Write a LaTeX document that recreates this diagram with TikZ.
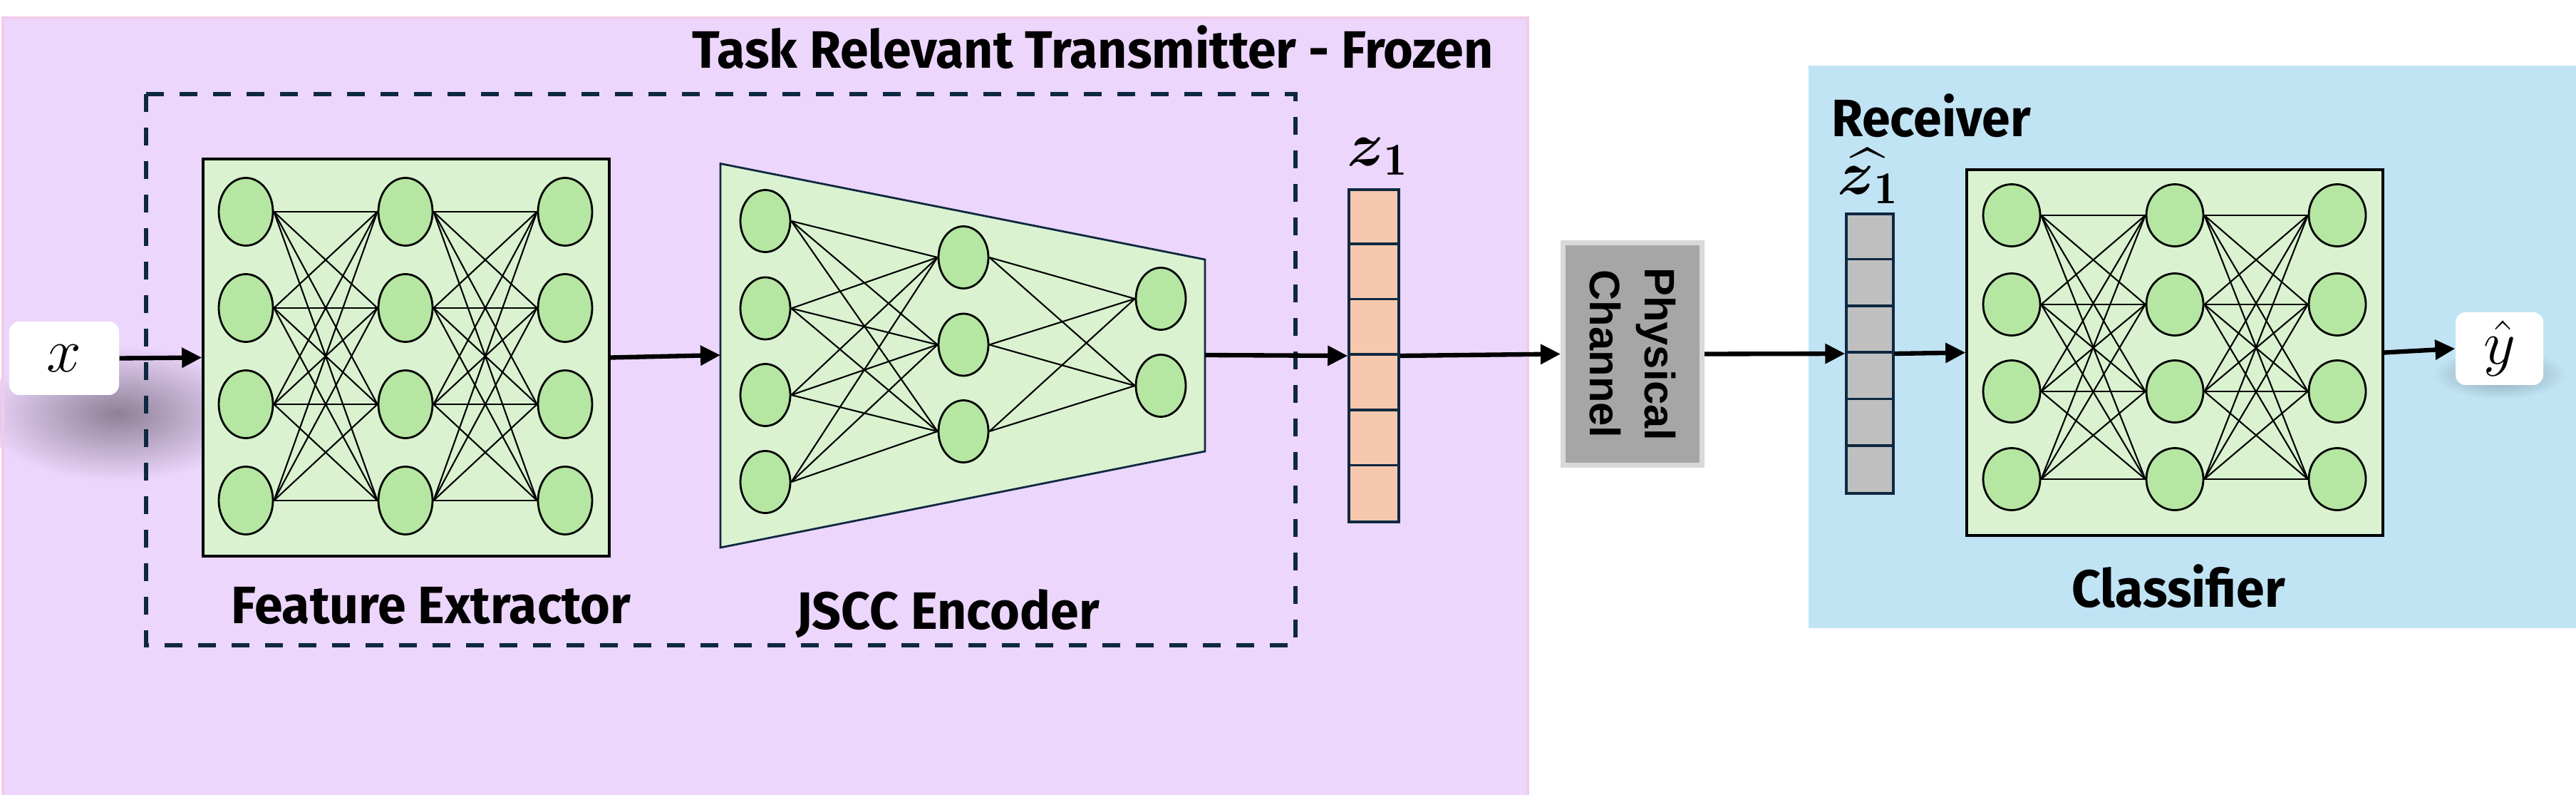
\documentclass[tikz,border=0pt]{standalone}
\usepackage{amsmath}
\usepackage{fontspec}
\newfontfamily\lblfont{Fira Sans}[FakeStretch=0.97]
\newfontfamily\chanfont{Liberation Sans}
\usetikzlibrary{arrows.meta,positioning,calc,shapes.geometric}
\definecolor{txpurple}{HTML}{ECD6FC}
\definecolor{txborder}{HTML}{F2CBEA}
\definecolor{rxblue}{HTML}{C1E4F5}
\definecolor{boxgreen}{HTML}{DAF2D0}
\definecolor{neurongreen}{HTML}{B5E6A2}
\definecolor{peach}{HTML}{F6C9AE}
\definecolor{vecgray}{HTML}{BFBFBF}
\definecolor{chgray}{HTML}{A6A6A6}
\definecolor{chborder}{HTML}{D9D9D9}
\definecolor{navy}{HTML}{0E2841}

\begin{document}
\begin{tikzpicture}[>={Triangle[length=2.8mm,width=2.7mm]},
  netbox/.style={draw=black, line width=1pt, fill=boxgreen, inner sep=0pt},
  neuron/.style={ellipse, draw=black, line width=0.8pt, fill=neurongreen, inner sep=0pt,
                 minimum width=7.6mm, minimum height=9.5mm},
  syn/.style={line width=0.6pt},
  flow/.style={->, line width=1.8pt},
  lbl/.style={font=\lblfont\bfseries\fontsize{21}{24}\selectfont, inner sep=1pt},
  vec/.style={draw=navy, line width=1pt, minimum width=7mm, inner sep=0pt},
  io/.style={fill=white, rounded corners=4pt, inner sep=0pt, font=\fontsize{28}{32}\selectfont},
  sym/.style={font=\fontsize{26}{30}\selectfont, inner sep=1pt}]
  \useasboundingbox (0,0) rectangle (36.15,-11.15);

  % transmitter and receiver panels
  \fill[txpurple] (0.04,-0.25) rectangle (21.44,-11.15);
  \shade[inner color=black!40!txpurple, outer color=txpurple] (1.65,-5.8) ellipse (1.9 and 0.95);
  \draw[txborder, line width=1pt] (0.04,-11.2) -- (0.04,-0.25) -- (21.44,-0.25) -- (21.44,-11.2);
  \fill[rxblue] (25.38,-0.92) rectangle (36.2,-8.81);
  \node[lbl, anchor=east] (ttl) at (21.0,-0.66) {Task Relevant Transmitter - Frozen};
  \node[lbl, anchor=west] (rxlbl) at (25.66,-1.62) {Receiver};
  \draw[navy, line width=1.7pt, dash pattern=on 2.5mm off 2.2mm] (2.05,-1.32) rectangle (18.18,-9.05);

  % feature extractor
  \node[netbox, minimum width=5.70cm, minimum height=5.57cm] (feat) at (5.70,-5.015) {};
  \foreach \c/\x in {a/3.45,b/5.69,c/7.93}
    \foreach \r/\y in {1/-2.97,2/-4.32,3/-5.67,4/-7.02}
      \node[neuron] (fe\c\r) at (\x,\y) {};
  \foreach \i in {1,...,4}
    \foreach \j in {1,...,4} {
      \draw[syn] (fea\i.east) -- (feb\j.west);
      \draw[syn] (feb\i.east) -- (fec\j.west);
    }
  \node[lbl] (featlbl) at (6.05,-8.50) {Feature Extractor};

  % JSCC encoder
  \draw[navy, line width=0.8pt, fill=boxgreen] (10.11,-2.295) -- (16.91,-3.64) -- (16.91,-6.33) -- (10.11,-7.68) -- cycle;
  \coordinate (jsccin) at (10.11,-4.98);
  \coordinate (jsccout) at (16.91,-4.98);
  \foreach \r/\y in {1/-3.10,2/-4.325,3/-5.54,4/-6.76}
    \node[neuron, minimum width=7mm, minimum height=8.7mm] (ja\r) at (10.74,\y) {};
  \foreach \r/\y in {1/-3.61,2/-4.835,3/-6.05}
    \node[neuron, minimum width=7mm, minimum height=8.7mm] (jb\r) at (13.52,\y) {};
  \foreach \r/\y in {1/-4.19,2/-5.41}
    \node[neuron, minimum width=7mm, minimum height=8.7mm] (jc\r) at (16.29,\y) {};
  \foreach \i in {1,...,4}
    \foreach \j in {1,...,3}
      \draw[syn] (ja\i.east) -- (jb\j.west);
  \foreach \i in {1,...,3}
    \foreach \j in {1,2}
      \draw[syn] (jb\i.east) -- (jc\j.west);
  \node[lbl] (jscclbl) at (13.30,-8.61) {JSCC Encoder};

  % latent z1
  \node[vec, fill=peach, minimum height=4.66cm] (z1) at (19.28,-4.99) {};
  \foreach \k in {1,...,5}
    \draw[navy, line width=1pt] ($(z1.north west)+(0,-0.7767*\k)$) -- ($(z1.north east)+(0,-0.7767*\k)$);
  \node[sym] (z1lbl) at (19.33,-2.2) {$\boldsymbol{z}_{\mathbf{1}}$};

  % physical channel
  \node[draw=chborder, line width=2pt, fill=chgray, minimum width=1.95cm, minimum height=3.12cm,
        inner sep=0pt] (chan) at (22.91,-4.965) {};
  \node[rotate=-90, align=center, font=\chanfont\bfseries\fontsize{17}{22}\selectfont] (chantxt)
        at (chan.center) {Physical\\Channel};

  % received z1
  \node[vec, fill=vecgray, minimum width=6.6mm, minimum height=3.92cm] (zh) at (26.24,-4.96) {};
  \foreach \k in {1,...,5}
    \draw[navy, line width=1pt] ($(zh.north west)+(0,-0.6533*\k)$) -- ($(zh.north east)+(0,-0.6533*\k)$);
  \node[sym] (zhlbl) at (26.21,-2.47) {$\widehat{\boldsymbol{z}_{\mathbf{1}}}$};

  % classifier
  \node[netbox, minimum width=5.84cm, minimum height=5.13cm] (cls) at (30.52,-4.945) {};
  \foreach \c/\x in {a/28.23,b/30.52,c/32.80}
    \foreach \r/\y in {1/-3.02,2/-4.27,3/-5.49,4/-6.72}
      \node[neuron, minimum width=8mm, minimum height=8.7mm] (cl\c\r) at (\x,\y) {};
  \foreach \i in {1,...,4}
    \foreach \j in {1,...,4} {
      \draw[syn] (cla\i.east) -- (clb\j.west);
      \draw[syn] (clb\i.east) -- (clc\j.west);
    }
  \node[lbl] (clslbl) at (30.57,-8.22) {Classifier};

  % input and output
  \shade[inner color=black!30!rxblue, outer color=rxblue] (35.08,-5.25) ellipse (0.95 and 0.35);
  \node[io, minimum width=1.23cm, minimum height=1.02cm] (yhat) at (35.075,-4.89) {$\hat{y}$};
  \node[io, minimum width=1.54cm, minimum height=1.03cm] (xin) at (0.90,-5.025) {$x$};

  \draw[flow] (xin.east) -- (feat.west);
  \draw[flow] (feat.east) -- (jsccin);
  \draw[flow] (jsccout) -- (z1.west);
  \draw[flow] (z1.east) -- (chan.west);
  \draw[flow] (chan.east) -- (zh.west);
  \draw[flow] (zh.east) -- (cls.west);
  \draw[flow] (cls.east) -- (yhat.west);
\end{tikzpicture}
\end{document}
